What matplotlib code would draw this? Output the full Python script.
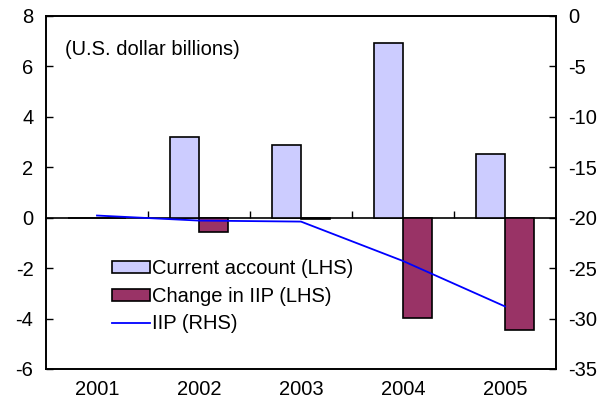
import matplotlib
matplotlib.use('Agg')
import matplotlib.pyplot as plt
from matplotlib.patches import Patch
from matplotlib.lines import Line2D

plt.rcParams['font.family'] = ['Liberation Sans', 'DejaVu Sans']
plt.rcParams['font.size'] = 14.5
plt.rcParams['axes.unicode_minus'] = False

years = ['2001', '2002', '2003', '2004', '2005']
current_account = [0.0, 3.18, 2.87, 6.9, 2.52]
change_iip = [0.0, -0.58, -0.05, -3.98, -4.44]
iip = [-19.8, -20.3, -20.4, -24.3, -28.8]

x = list(range(len(years)))
w = 0.285

fig = plt.figure(figsize=(6.1, 4.09), dpi=100)
ax = fig.add_axes([0.0754, 0.0978, 0.836, 0.864])

ax.bar([i - w / 2 for i in x], current_account, width=w, color='#CCCCFF',
       edgecolor='black', linewidth=1.2, zorder=2)
ax.bar([i + w / 2 for i in x], change_iip, width=w, color='#993366',
       edgecolor='black', linewidth=1.2, zorder=2)

ax.set_xlim(-0.5, 4.5)
ax.set_ylim(-6, 8)
ax.set_yticks(range(-6, 9, 2))
ax.set_xticks(x)
ax.set_xticklabels(years)
ax.tick_params(axis='x', length=0, pad=8)
ax.tick_params(axis='y', direction='in', length=5, width=1, pad=9)
for s in ax.spines.values():
    s.set_linewidth(1.2)

# zero line with category separators
lo, hi = ax.get_ylim()
zero = ax.secondary_xaxis((0 - lo) / (hi - lo))
zero.set_xticks([i + 0.5 for i in x[:-1]])
zero.set_xticklabels([])
zero.tick_params(direction='in', length=5, width=1)
zero.spines['bottom'].set_linewidth(1.2)

ax2 = ax.twinx()
ax2.plot(x, iip, color='#0000FF', linewidth=1.3, zorder=3)
ax2.set_ylim(-35, 0)
ax2.set_yticks(range(-35, 1, 5))
ax2.tick_params(axis='y', direction='in', length=5, width=1, pad=9)
for s in ax2.spines.values():
    s.set_linewidth(1.2)

ax.text(0.037, 0.905, '(U.S. dollar billions)', transform=ax.transAxes,
        ha='left', va='center')

handles = [Patch(facecolor='#CCCCFF', edgecolor='black', linewidth=1.2),
           Patch(facecolor='#993366', edgecolor='black', linewidth=1.2),
           Line2D([], [], color='#0000FF', linewidth=1.3)]
labels = ['Current account (LHS)', 'Change in IIP (LHS)', 'IIP (RHS)']
ax2.legend(handles, labels, loc='upper left', bbox_to_anchor=(0.13, 0.31),
           frameon=False, handlelength=1.85, handleheight=0.55,
           handletextpad=0.1, labelspacing=0.42, borderaxespad=0,
           borderpad=0)

fig.savefig('out.png', dpi=100)
